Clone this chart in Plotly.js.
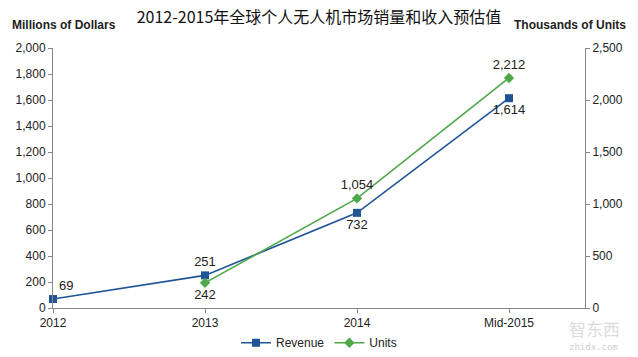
<!DOCTYPE html>
<html>
<head>
<meta charset="utf-8">
<script src="https://cdn.plot.ly/plotly-3.0.1.min.js"></script>
<style>html,body{margin:0;padding:0;background:#fff;}#chart{width:638px;height:357px;}</style>
</head>
<body>
<div id="chart"></div>
<script>
var categories = ['2012', '2013', '2014', 'Mid-2015'];
var revenue = [69, 251, 732, 1614];
var units = [null, 242, 1054, 2212];
var leftTicks = [0, 200, 400, 600, 800, 1000, 1200, 1400, 1600, 1800, 2000];
var rightTicks = [0, 500, 1000, 1500, 2000, 2500];

var fontFam = 'Liberation Sans, Arial, sans-serif';
var traces = [
  {
    x: categories, y: revenue, name: 'Revenue', type: 'scatter', mode: 'lines+markers+text',
    line: {color: '#1F5597', width: 1.6},
    marker: {symbol: 'square', size: 8, color: '#1F5597'},
    texttemplate: '%{y:,.0f}',
    textposition: ['top right', 'top center', 'bottom center', 'bottom center'],
    textfont: {family: fontFam, size: 13, color: '#222'},
    cliponaxis: false
  },
  {
    x: categories, y: units, name: 'Units', type: 'scatter', mode: 'lines+markers+text', yaxis: 'y2',
    line: {color: '#4EA84A', width: 1.6},
    marker: {symbol: 'diamond', size: 8, color: '#4EA84A'},
    texttemplate: '%{y:,.0f}',
    textposition: ['top center', 'bottom center', 'top center', 'top center'],
    textfont: {family: fontFam, size: 13, color: '#222'},
    cliponaxis: false
  }
];

var layout = {
  width: 638, height: 357,
  margin: {l: 53, r: 53, t: 48, b: 49, autoexpand: false},
  paper_bgcolor: '#fff', plot_bgcolor: '#fff',
  font: {family: fontFam, size: 12, color: '#222'},
  title: {text: '2012-2015年全球个人无人机市场销量和收入预估值', x: 0.5, xanchor: 'center', y: 0.95, yanchor: 'middle',
          font: {family: 'Noto Sans CJK SC, sans-serif', size: 16, color: '#111'}},
  showlegend: true,
  legend: {orientation: 'h', x: 0.5, xanchor: 'center', xref: 'container', y: 0.04, yanchor: 'middle', yref: 'container',
           font: {family: fontFam, size: 12, color: '#222'}},
  xaxis: {
    type: 'category', range: [0, 3.5], showline: true, linecolor: '#888', linewidth: 1,
    ticks: 'outside', ticklen: 4, tickcolor: '#888', showgrid: false, zeroline: false,
    tickfont: {family: fontFam, size: 12, color: '#222'}
  },
  yaxis: {
    range: [0, 2000], tickvals: leftTicks, ticktext: leftTicks.map(function(v){return v.toLocaleString('en-US');}),
    showline: true, linecolor: '#888', ticks: 'outside', ticklen: 4, tickcolor: '#888',
    showgrid: false, zeroline: false, tickfont: {family: fontFam, size: 12, color: '#222'}
  },
  yaxis2: {
    range: [0, 2500], overlaying: 'y', side: 'right', tickvals: rightTicks,
    ticktext: rightTicks.map(function(v){return v.toLocaleString('en-US');}),
    showline: true, linecolor: '#888', ticks: 'outside', ticklen: 4, tickcolor: '#888',
    showgrid: false, zeroline: false, tickfont: {family: fontFam, size: 12, color: '#222'}
  },
  annotations: [
    {text: '<b>Millions of Dollars</b>', xref: 'paper', yref: 'paper', x: -0.08, y: 1.09, xanchor: 'left', yanchor: 'middle',
     showarrow: false, font: {family: fontFam, size: 12, color: '#222'}},
    {text: '<b>Thousands of Units</b>', xref: 'paper', yref: 'paper', x: 1.08, y: 1.09, xanchor: 'right', yanchor: 'middle',
     showarrow: false, font: {family: fontFam, size: 12, color: '#222'}},
    {text: '智东西', xref: 'paper', yref: 'paper', x: 1.07, y: -0.08, xanchor: 'right', yanchor: 'middle',
     showarrow: false, font: {family: 'Noto Sans CJK SC, sans-serif', size: 17, color: '#dcdcdc'}},
    {text: 'zhidx.com', xref: 'paper', yref: 'paper', x: 1.065, y: -0.15, xanchor: 'right', yanchor: 'middle',
     showarrow: false, font: {family: 'DejaVu Sans Mono, monospace', size: 9, color: '#d0d0d0'}}
  ]
};

Plotly.newPlot('chart', traces, layout, {displayModeBar: false, staticPlot: true});
</script>
</body>
</html>
